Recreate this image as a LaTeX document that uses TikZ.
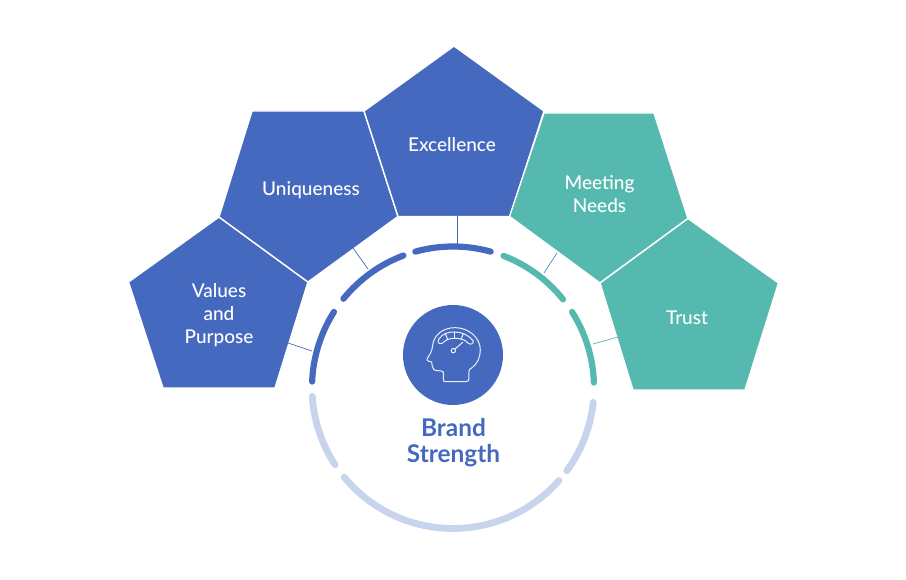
\documentclass[tikz,border=0pt]{standalone}
\usepackage{fontspec}
\setmainfont{Lato}
\newfontfamily\labelfont{Lato Medium}
\definecolor{brandblue}{HTML}{4569BE}
\definecolor{brandteal}{HTML}{56B9B0}
\definecolor{brandpale}{HTML}{C8D3EC}
\tikzset{
  penta/.style={draw=white,line width=1.4pt,line join=miter},
  lbl/.style={text=white,align=center,font=\labelfont\fontsize{19}{23}\selectfont},
  seg/.style={line width=6.2pt,line cap=round},
  segpale/.style={line width=6.8pt,line cap=round},
  tick/.style={line width=0.7pt},
  icon/.style={draw=white,opacity=0.9,line width=1pt,line join=round,line cap=round}
}
\begin{document}
\begin{tikzpicture}[x=1pt,y=-1pt]
\useasboundingbox (0,0) rectangle (906,580);
\coordinate (ctr) at (453,387.5);

% pentagons
\fill[brandblue,penta] (219,217)--(308,282)--(275,388)--(163,388)--(128.5,282)--cycle;
\fill[brandblue,penta] (252,111)--(364,111)--(398,216.5)--(308,282)--(219,217)--cycle;
\fill[brandblue,penta] (454,46)--(544,111)--(510,216.5)--(398,216.5)--(364,111)--cycle;
\fill[brandteal,penta] (544,113)--(654,113)--(688,218.5)--(600,283)--(509.5,216.5)--cycle;
\fill[brandteal,penta] (688,218.5)--(778.5,283)--(745,390)--(633,390)--(600,283)--cycle;

\node[lbl] (values) at (219,315) {Values\\and\\Purpose};
\node[lbl] (uniq) at (311,190) {Uniqueness};
\node[lbl] (excel) at (452,145) {Excellence};
\node[lbl] (needs) at (599.5,194) {Meeting\\Needs};
\node[lbl] (trust) at (687,318) {Trust};

% ring
\foreach \a/\b/\c in {177.6/147.6/brandblue,141/110.6/brandblue,105.5/74.5/brandblue,
  69/38.7/brandteal,32.4/2/brandteal}
  \draw[seg,\c] ([shift={(-\a:141)}]ctr) arc[start angle=-\a,end angle=-\b,radius=141];
\foreach \a/\b in {183.6/213.2,219.5/318.7,323.8/354}
  \draw[segpale,brandpale] ([shift={(-\a:141)}]ctr) arc[start angle=-\a,end angle=-\b,radius=141];

% ticks
\coordinate (t1a) at (288,343); \coordinate (t1b) at (312,351);
\coordinate (t2a) at (353,248); \coordinate (t2b) at (368,269);
\coordinate (t3a) at (457,216); \coordinate (t3b) at (457,244);
\coordinate (t4a) at (557,253); \coordinate (t4b) at (544,273);
\coordinate (t5a) at (618,337); \coordinate (t5b) at (593,344);
\draw[tick,brandblue] (t1a)--(t1b);
\draw[tick,brandblue] (t2a)--(t2b);
\draw[tick,brandblue] (t3a)--(t3b);
\draw[tick,brandblue!60!brandteal] (t4a)--(t4b);
\draw[tick,brandteal] (t5a)--(t5b);

% centre
\fill[brandblue] (453,355) circle (50);
\node[text=brandblue,align=center,font=\fontsize{24.4}{26}\selectfont\bfseries] (brand) at (453.5,443) {Brand\\Strength};

% head
\begin{scope}[shift={(400,300)},x=0.3333pt,y=-0.3333pt]
\draw[icon] (135,245) -- (198,245) .. controls (205,245) and (207,241) .. (207,235)
  -- (207,214) .. controls (207,208) and (210,206) .. (215,204)
  .. controls (232,192) and (241,172) .. (241,150)
  .. controls (241,112) and (205,83) .. (165,83)
  .. controls (130,83) and (102,104) .. (98,135)
  .. controls (97,150) and (92,160) .. (84,172)
  .. controls (78,180) and (80,183) .. (95,186)
  .. controls (96,195) and (97,205) .. (102,209)
  .. controls (106,214) and (125,210) .. (130,216)
  -- (130,238) .. controls (130,243) and (132,245) .. (135,245);
\draw[icon] (116,118) .. controls (128,100) and (145,96) .. (163,96)
  .. controls (185,96) and (204,104) .. (219,122)
  .. controls (223,130) and (212,136) .. (205,130)
  .. controls (195,118) and (180,115) .. (163,115)
  .. controls (148,115) and (138,119) .. (128,129)
  .. controls (120,135) and (110,128) .. (116,118);
\draw[icon] (163,96)--(163,115);
\draw[icon] (136,101)--(143,118);
\draw[icon] (190,101)--(183,118);
\draw[icon] (160,152) circle (6.5);
\draw[icon] (165,147)--(188,127);
\end{scope}
\end{tikzpicture}
\end{document}
